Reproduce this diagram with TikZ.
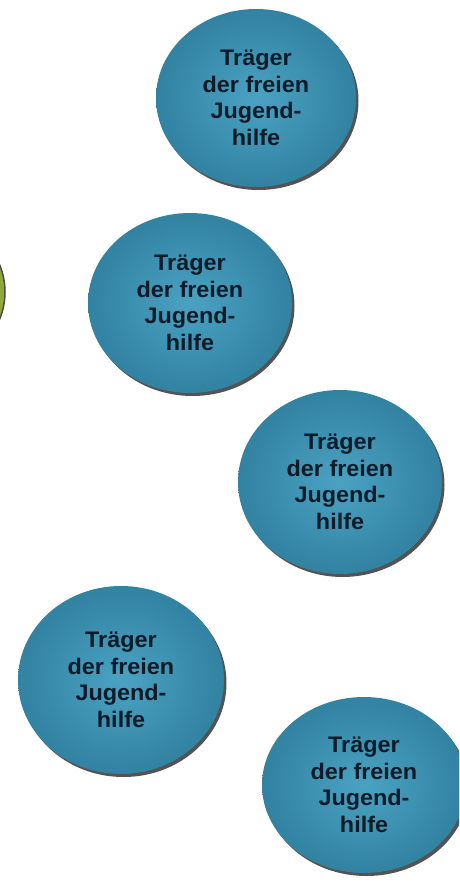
\documentclass[tikz,border=0pt]{standalone}
\usepackage{fontspec}
\usetikzlibrary{shapes.geometric,shadows}
\newfontfamily\circlefont[FakeStretch=1.04]{Liberation Sans}

\definecolor{tealIn}{HTML}{4AA2C2}
\definecolor{tealOut}{HTML}{3282A2}
\definecolor{navyTxt}{HTML}{0D1A28}
\definecolor{oliveIn}{HTML}{B4C75A}
\definecolor{oliveOut}{HTML}{8FA63A}

\begin{document}
\begin{tikzpicture}[x=1pt, y=-1pt,
    traeger/.style={ellipse, minimum width=204pt, minimum height=180pt,
        inner sep=0pt, shade, inner color=tealIn, outer color=tealOut,
        text=navyTxt, align=center,
        font=\circlefont\bfseries\fontsize{22.5}{26.5}\selectfont,
        drop shadow={shadow xshift=2.5pt, shadow yshift=-3pt,
            fill=black!75, opacity=.9}},
    gruen/.style={ellipse, minimum width=204pt, minimum height=170pt,
        shade, inner color=oliveIn, outer color=oliveOut,
        draw=black!70, line width=1.5pt},
]
\useasboundingbox (0,0) rectangle (459,882);
\clip (0,0) rectangle (459,882);

% partly hidden circle on the left edge
\node[gruen] (links) at (-97, 292) {};

% Traeger der freien Jugendhilfe
\node[traeger, minimum width=200pt, minimum height=178pt]
    (tj1) at (256, 98) {Träger\\der freien\\Jugend-\\hilfe};
\node[traeger] (tj2) at (190, 303) {Träger\\der freien\\Jugend-\\hilfe};
\node[traeger, minimum height=184pt]
    (tj3) at (340, 482) {Träger\\der freien\\Jugend-\\hilfe};
\node[traeger, minimum width=206pt, minimum height=188pt]
    (tj4) at (121, 680) {Träger\\der freien\\Jugend-\\hilfe};
\node[traeger, minimum height=176pt]
    (tj5) at (364, 785) {Träger\\der freien\\Jugend-\\hilfe};

\end{tikzpicture}
\end{document}
